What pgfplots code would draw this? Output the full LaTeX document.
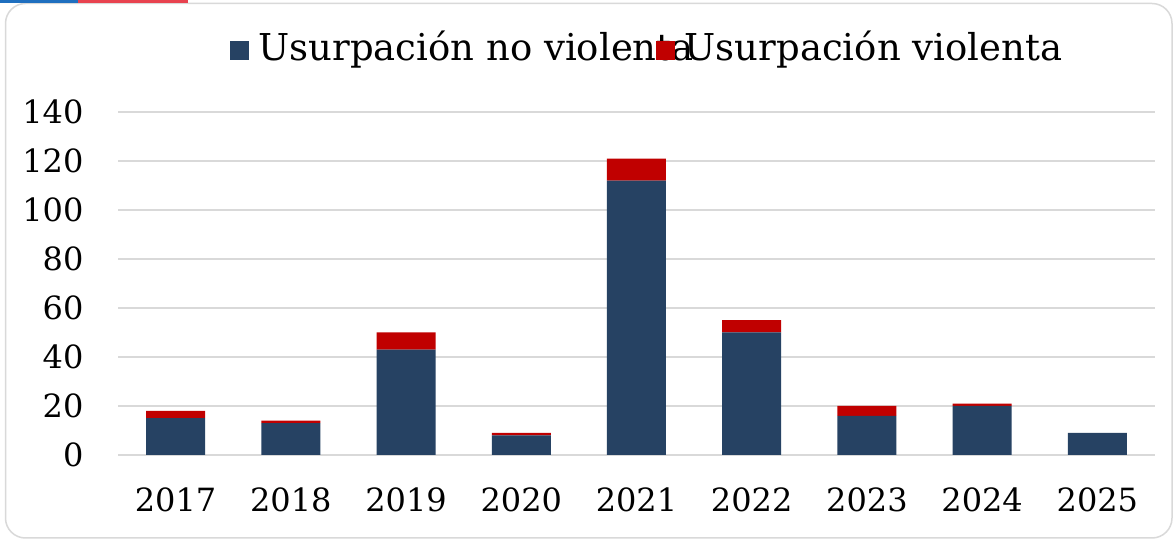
\documentclass[border=0pt]{standalone}
\usepackage{fontspec}
\setmainfont{DejaVu Serif}
\usepackage{pgfplots}
\pgfplotsset{compat=1.18}
\definecolor{navybar}{HTML}{264263}
\definecolor{redbar}{HTML}{C00000}
\definecolor{flagblue}{HTML}{1F6FBF}
\definecolor{flagred}{HTML}{E8424F}
\definecolor{gridgray}{HTML}{D9D9D9}
\pgfplotstableread{
x nv v
0 15 3
1 13 1
2 43 7
3 8 1
4 112 9
5 50 5
6 16 4
7 20 1
8 9 0
}\datatable
\begin{document}
\begin{tikzpicture}
\useasboundingbox (0,0) rectangle (1174pt,540pt);
\fill[white] (0,0) rectangle (1174pt,540pt);
\draw[gridgray, line width=1.5pt, rounded corners=20pt] (5.5pt,2pt) rectangle (1172pt,536.5pt);
\fill[flagblue] (0,537pt) rectangle (78pt,540pt);
\fill[flagred] (78pt,537pt) rectangle (188pt,540pt);
\begin{axis}[
  at={(118pt,85pt)}, anchor=south west,
  scale only axis, width=1037pt, height=343pt,
  ybar stacked, bar width=59pt,
  xmin=-0.5, xmax=8.5, ymin=0, ymax=140,
  xtick=data, xticklabels={2017,2018,2019,2020,2021,2022,2023,2024,2025},
  ytick={0,20,...,140},
  ymajorgrids, grid style={line width=1.5pt, gridgray},
  axis line style={draw=none},
  major tick length=0pt,
  tick style={draw=none},
  font=\fontsize{32}{38}\selectfont,
  /pgf/number format/assume math mode=true,
  yticklabel style={xshift=-31pt},
  xticklabel style={yshift=-29pt},
  legend columns=2,
  legend style={draw=none, fill=none, at={(0.509,1.19)}, anchor=center,
    font=\fontsize{37}{44}\selectfont,
    nodes={inner sep=0pt, anchor=base west},
    /tikz/every odd column/.append style={column sep=10pt},
    /tikz/every even column/.append style={column sep=-38pt}},
  legend image code/.code={\fill[#1,draw=none] (0pt,1pt) rectangle (19pt,20pt);},
]
\addplot[fill=navybar, draw=none] table[x=x,y=nv] {\datatable};
\addplot[fill=redbar, draw=none] table[x=x,y=v] {\datatable};
\legend{Usurpación no violenta, Usurpación violenta}
\end{axis}
\end{tikzpicture}
\end{document}
